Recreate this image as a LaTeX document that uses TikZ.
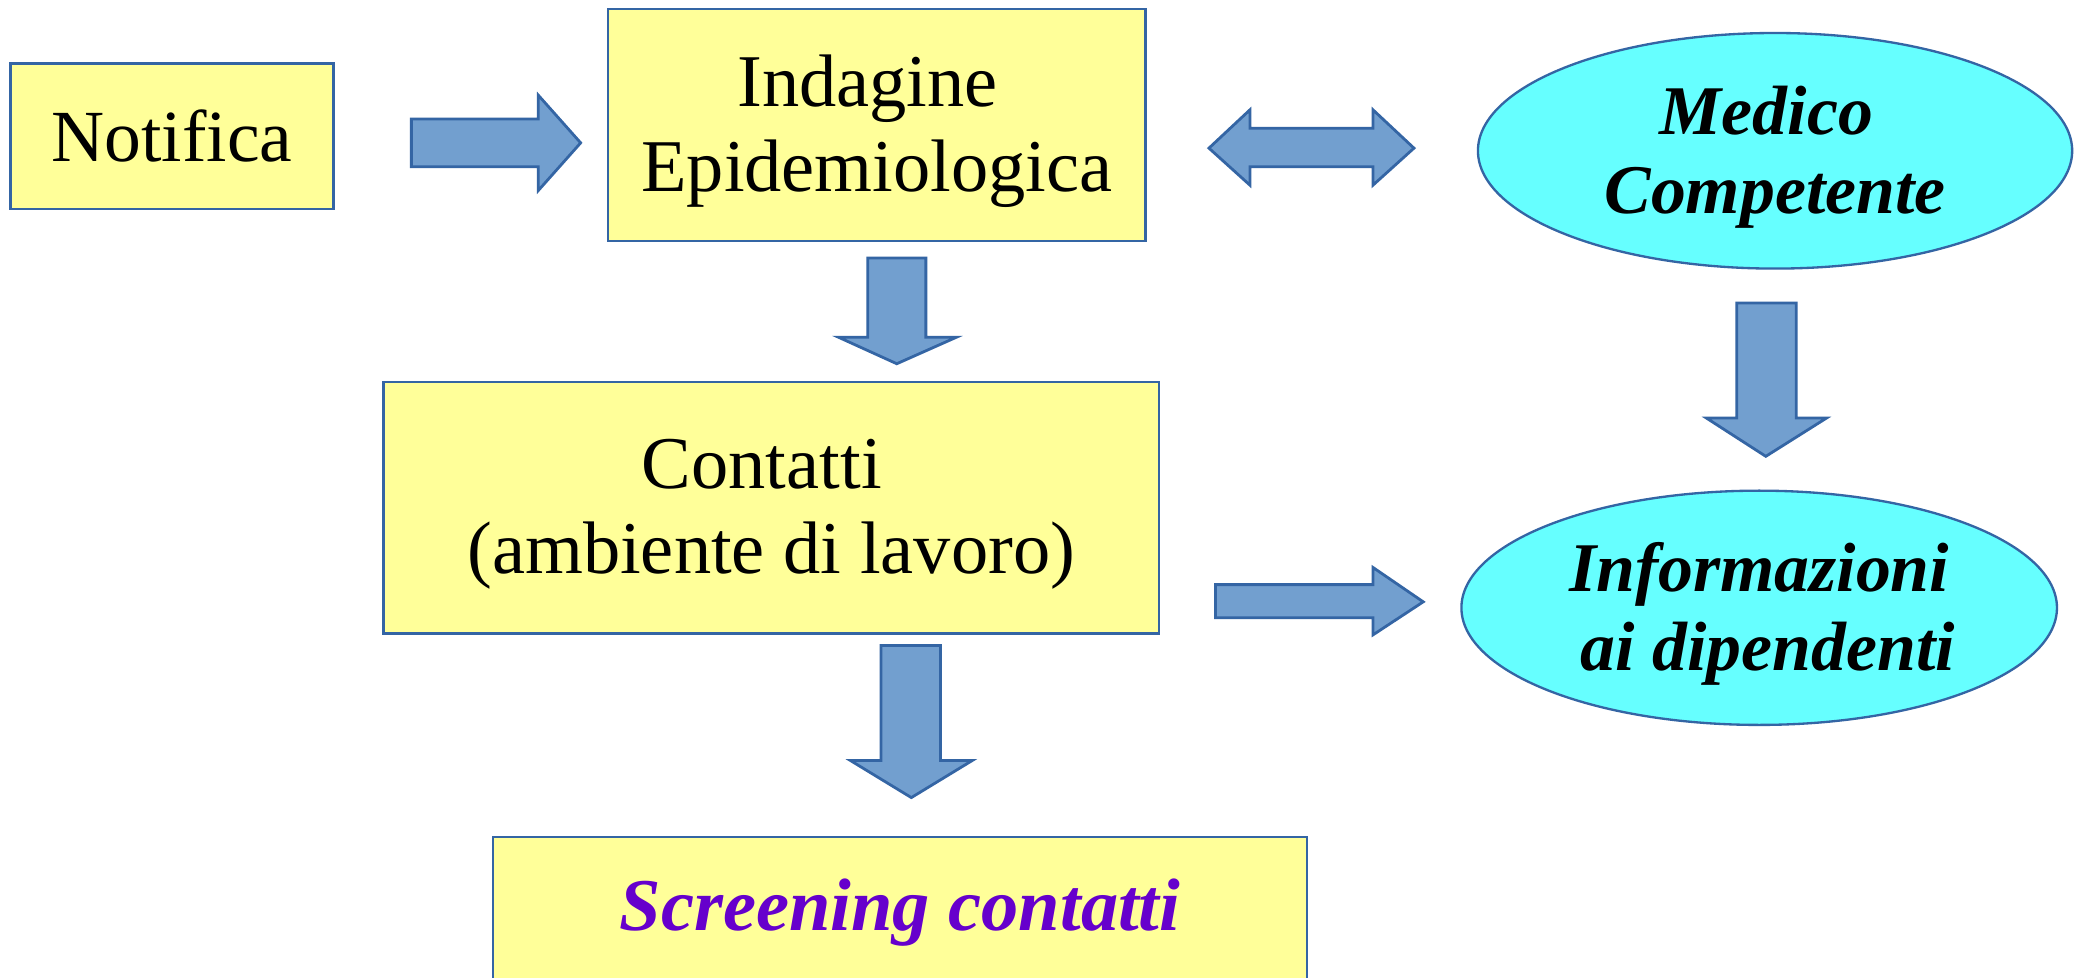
\documentclass[tikz,border=0pt]{standalone}
\usepackage{fontspec}
\setmainfont{Liberation Serif}
\usepackage{xcolor}
\definecolor{boxfill}{HTML}{FFFF99}
\definecolor{edgeblue}{HTML}{3465A4}
\definecolor{arrowfill}{HTML}{729FCF}
\definecolor{ovalfill}{HTML}{66FFFF}
\definecolor{screenviolet}{HTML}{6600CC}
\usetikzlibrary{shapes.geometric}
\tikzset{
  yellowbox/.style = {draw = edgeblue, fill = boxfill, line width = 0.5pt, align = center, inner sep = 0pt},
  cyanoval/.style = {ellipse, draw = edgeblue, fill = ovalfill, line width = 0.5pt, inner sep = 0pt},
  boxtext/.style = {align = center, inner sep = 0pt, font = \fontsize{16}{18.3}\selectfont},
  ovaltext/.style = {align = center, inner sep = 0pt, font = \fontsize{15}{17}\selectfont\bfseries\itshape},
  bigarrow/.style = {draw = edgeblue, fill = arrowfill, line width = 0.6pt, line join = miter}
}

\begin{document}
\begin{tikzpicture}[x = 0.01cm, y = -0.01cm]
\clip (0,0) rectangle (1568,739);
\fill [white] (0,0) rectangle (1568,739);
\node [yellowbox, minimum width = 2.44cm, minimum height = 1.10cm, font = \fontsize{15.8}{18}\selectfont] (notifica) at (130,103) {Notifica};
\node [yellowbox, minimum width = 4.06cm, minimum height = 1.75cm] (indagine) at (663,94.5) {};
\node [boxtext] (indaginetxt) at ([yshift = -0.05cm]indagine.center) {Indagine\hspace*{0.25em}\\Epidemiologica};
\node [cyanoval, minimum width = 4.49cm, minimum height = 1.78cm] (medico) at (1342,114) {};
\node [ovaltext] (medicotxt) at ([yshift = -0.05cm]medico.center) {Medico\hspace*{0.25em}\\Competente};
\node [yellowbox, minimum width = 5.86cm, minimum height = 1.90cm] (contatti) at (583,384) {};
\node [boxtext] (contattitxt) at ([yshift = -0.05cm]contatti.center) {Contatti\hspace*{0.25em}\\(ambiente di lavoro)};
\node [cyanoval, minimum width = 4.50cm, minimum height = 1.77cm] (info) at (1330,459.5) {};
\node [ovaltext] (infotxt) at ([yshift = -0.045cm]info.center) {Informazioni\\\hspace*{0.25em}ai dipendenti};
\node [yellowbox, minimum width = 6.15cm, minimum height = 1.14cm, font = \fontsize{16}{18}\selectfont\bfseries\itshape, text = screenviolet] (screening) at (680.5,690) {Screening contatti};
\draw [bigarrow] (311,90) -- (407,90) -- (407,72) -- (439,108) -- (407,144) -- (407,126) -- (311,126) -- cycle;
\draw [bigarrow] (914,112) -- (945,83) -- (945,97) -- (1038,97) -- (1038,83) -- (1069,112) -- (1038,140) -- (1038,126) -- (945,126) -- (945,140) -- cycle;
\draw [bigarrow] (656,195) -- (700,195) -- (700,255) -- (723,255) -- (678,275) -- (634,255) -- (656,255) -- cycle;
\draw [bigarrow] (1313,229) -- (1358,229) -- (1358,316) -- (1381,316) -- (1335,345) -- (1290,316) -- (1313,316) -- cycle;
\draw [bigarrow] (919,442) -- (1038,442) -- (1038,429) -- (1076,455) -- (1038,480) -- (1038,467) -- (919,467) -- cycle;
\draw [bigarrow] (666,488) -- (711,488) -- (711,575) -- (735,575) -- (689,603) -- (643,575) -- (666,575) -- cycle;
\end{tikzpicture}
\end{document}
